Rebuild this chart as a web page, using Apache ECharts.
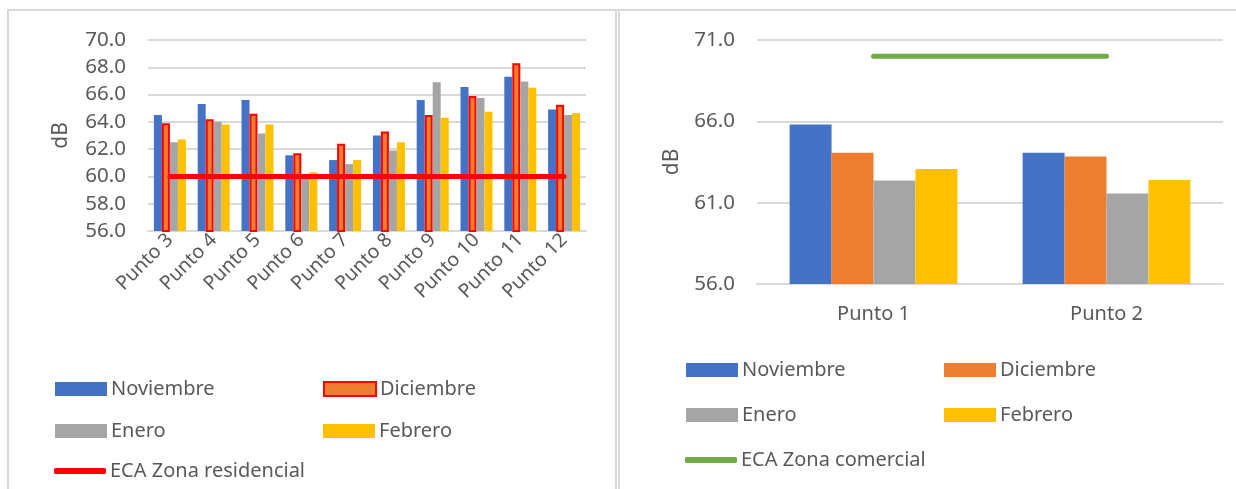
<!DOCTYPE html>
<html>
<head>
<meta charset="utf-8">
<script src="https://cdn.jsdelivr.net/npm/echarts@6/dist/echarts.min.js"></script>
<style>
html,body{margin:0;padding:0;background:#fff;width:1236px;height:489px;overflow:hidden;}
#c1{position:absolute;left:0;top:0;width:617px;height:489px;}
#c2{position:absolute;left:617px;top:0;width:619px;height:489px;}
.b{position:absolute;background:#D9D9D9;}
</style>
</head>
<body>
<div id="c1"></div>
<div id="c2"></div>
<div class="b" style="left:7px;top:9px;width:2px;height:480px;"></div>
<div class="b" style="left:7px;top:9px;width:1229px;height:2px;"></div>
<div class="b" style="left:615px;top:9px;width:2px;height:480px;"></div>
<div class="b" style="left:618px;top:9px;width:2px;height:480px;"></div>
<script>
// ---- Data ----
const leftCategories = ['Punto 3','Punto 4','Punto 5','Punto 6','Punto 7','Punto 8','Punto 9','Punto 10','Punto 11','Punto 12'];
const leftNoviembre = [64.5, 65.3, 65.6, 61.55, 61.2, 63.0, 65.6, 66.55, 67.3, 64.9];
const leftDiciembre = [63.9, 64.2, 64.6, 61.7, 62.4, 63.3, 64.5, 65.9, 68.3, 65.25];
const leftEnero     = [62.5, 64.0, 63.15, 60.0, 60.9, 61.9, 66.9, 65.75, 66.95, 64.5];
const leftFebrero   = [62.7, 63.8, 63.8, 60.3, 61.2, 62.5, 64.3, 64.75, 66.5, 64.65];
const leftECA       = [60, 60, 60, 60, 60, 60, 60, 60, 60, 60];
const leftYTicks = {min: 56, max: 70, interval: 2};

const rightCategories = ['Punto 1','Punto 2'];
const rightNoviembre = [65.8, 64.07];
const rightDiciembre = [64.07, 63.84];
const rightEnero     = [62.37, 61.57];
const rightFebrero   = [63.07, 62.39];
const rightECA       = [70, 70];
const rightYTicks = {min: 56, max: 71, interval: 5};

// ---- Styles ----
const FONT = 'Noto Sans';
const TXT = '#595959';
const C = {nov:'#4472C4', dic:'#ED7D31', ene:'#A5A5A5', feb:'#FFC000', red:'#FF0000', green:'#70AD47'};

function legendItem(name, left, top, icon, h, ex) {
  return Object.assign({
    data:[name], left:left, top:top, orient:'horizontal',
    icon: icon, itemWidth:52, itemHeight:h, itemGap:0,
    selectedMode:false, padding:0,
    textStyle:{fontFamily:FONT, fontSize:20, color:TXT, padding:[0,0,0,-1]}
  }, ex||{});
}

// ---- Left chart ----
const c1 = echarts.init(document.getElementById('c1'), null, {renderer:'canvas'});
const barBase = {type:'bar', barGap:'0%', barCategoryGap:'27%'};
c1.setOption({
  animation:false,
  grid:{left:148, right:31, top:40, bottom:258},
  xAxis:{type:'category', data:leftCategories,
    axisLine:{show:true, lineStyle:{color:'#D9D9D9', width:2}}, axisTick:{show:false},
    axisLabel:{rotate:45, margin:6, fontFamily:FONT, fontSize:19.5, color:TXT, interval:0}},
  yAxis:{type:'value', min:leftYTicks.min, max:leftYTicks.max, interval:leftYTicks.interval,
    name:'dB', nameLocation:'middle', nameRotate:90, nameGap:76,
    nameTextStyle:{fontFamily:FONT, fontSize:21, color:TXT},
    axisLine:{show:false}, axisTick:{show:false},
    splitLine:{lineStyle:{color:'#D9D9D9', width:2}},
    axisLabel:{margin:22, fontFamily:FONT, fontSize:20.5, color:TXT, formatter:v=>v.toFixed(1)}},
  legend:[
    legendItem('Noviembre', 55, 379, 'rect', 14),
    legendItem('Diciembre', 323, 379, 'rect', 14),
    legendItem('Enero', 55, 421, 'rect', 14),
    legendItem('Febrero', 323, 421, 'rect', 14),
    legendItem('ECA Zona residencial', 54, 461, 'roundRect', 6)
  ],
  series:[
    Object.assign({name:'Noviembre', data:leftNoviembre, itemStyle:{color:C.nov}}, barBase),
    Object.assign({name:'Diciembre', data:leftDiciembre, itemStyle:{color:C.dic, borderColor:C.red, borderWidth:2}}, barBase),
    Object.assign({name:'Enero', data:leftEnero, itemStyle:{color:C.ene}}, barBase),
    Object.assign({name:'Febrero', data:leftFebrero, itemStyle:{color:C.feb}}, barBase),
    {name:'ECA Zona residencial', type:'line', data:leftECA, symbol:'none', z:5,
     lineStyle:{color:C.red, width:5, cap:'round'}, itemStyle:{color:C.red}}
  ]
});

// ---- Right chart ----
const c2 = echarts.init(document.getElementById('c2'), null, {renderer:'canvas'});
const barBase2 = {type:'bar', barGap:'0%', barCategoryGap:'28%'};
c2.setOption({
  animation:false,
  grid:{left:140, right:13, top:40, bottom:205},
  xAxis:{type:'category', data:rightCategories,
    axisLine:{show:true, lineStyle:{color:'#D9D9D9', width:2}}, axisTick:{show:false},
    axisLabel:{margin:20, fontFamily:FONT, fontSize:20, color:TXT}},
  yAxis:{type:'value', min:rightYTicks.min, max:rightYTicks.max, interval:rightYTicks.interval,
    name:'dB', nameLocation:'middle', nameRotate:90, nameGap:74,
    nameTextStyle:{fontFamily:FONT, fontSize:21, color:TXT},
    axisLine:{show:false}, axisTick:{show:false},
    splitLine:{lineStyle:{color:'#D9D9D9', width:2}},
    axisLabel:{margin:22, fontFamily:FONT, fontSize:20.5, color:TXT, formatter:v=>v.toFixed(1)}},
  legend:[
    legendItem('Noviembre', 69, 360, 'rect', 14),
    legendItem('Diciembre', 327, 360, 'rect', 14),
    legendItem('Enero', 69, 405, 'rect', 14),
    legendItem('Febrero', 327, 405, 'rect', 14),
    legendItem('ECA Zona comercial', 68, 450, 'roundRect', 6)
  ],
  series:[
    Object.assign({name:'Noviembre', data:rightNoviembre, itemStyle:{color:C.nov}}, barBase2),
    Object.assign({name:'Diciembre', data:rightDiciembre, itemStyle:{color:C.dic}}, barBase2),
    Object.assign({name:'Enero', data:rightEnero, itemStyle:{color:C.ene}}, barBase2),
    Object.assign({name:'Febrero', data:rightFebrero, itemStyle:{color:C.feb}}, barBase2),
    {name:'ECA Zona comercial', type:'line', data:rightECA, symbol:'none', z:5,
     lineStyle:{color:C.green, width:5, cap:'round'}, itemStyle:{color:C.green}}
  ]
});
</script>
</body>
</html>
